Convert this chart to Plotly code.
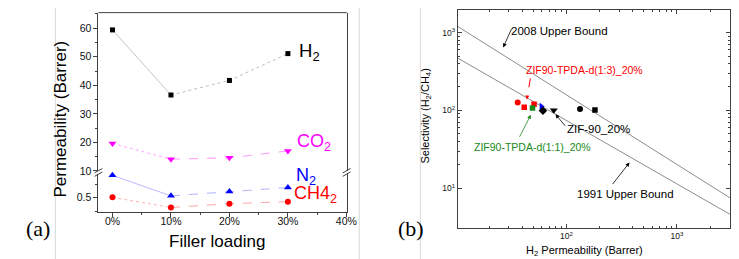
import plotly.graph_objects as go

W, H = 739, 259

# ---------------- Panel (a) data ----------------
loading = [0, 10, 20, 30]
loading_ticks = [0, 10, 20, 30, 40]
loading_labels = ["0%", "10%", "20%", "30%", "40%"]
h2 = [59.4, 36.6, 41.7, 51.1]
co2 = [19.6, 14.1, 14.6, 17.0]
n2 = [0.917, 0.535, 0.614, 0.69]
ch4 = [0.507, 0.318, 0.39, 0.426]
upper_ticks = [10, 20, 30, 40, 50, 60]
lower_ticks = [0.5]
lower_labels = ["0.5"]

# ---------------- Panel (b) data ----------------
ub2008_p = [10.4, 3030]
ub2008_s = [1200, 7.5]
ub1991_p = [10.4, 3030]
ub1991_s = [470, 4.6]
red_circle_p, red_circle_s = [36.3], [126]
red_square_p, red_square_s = [41.6, 51.0], [110, 120]
green_square_p, green_square_s = [49.4], [107]
blue_tri_p, blue_tri_s = [59.4], [112]
blk_diamond_p, blk_diamond_s = [61.4], [99]
blk_tridown_p, blk_tridown_s = [77], [100]
blk_circle_p, blk_circle_s = [133], [104]
blk_square_p, blk_square_s = [181.5], [101]
log_ticks = [10, 100, 1000]
log_labels = ["10<sup>1</sup>", "10<sup>2</sup>", "10<sup>3</sup>"]


def X(px):
    return px / W


def Y(py):
    return 1 - py / H


SANS = "Liberation Sans, Arial"
SERIF = "Liberation Serif, Times New Roman"
AXC = "#404040"

fig = go.Figure()


def series(xs, ys, yaxis, lcol, mcol, sym, msize, dash1, dash2, name):
    fig.add_trace(go.Scatter(x=xs[:2], y=ys[:2], xaxis="x", yaxis=yaxis, mode="lines",
                             line=dict(color=lcol, width=0.8, dash=dash1), showlegend=False))
    fig.add_trace(go.Scatter(x=xs[1:], y=ys[1:], xaxis="x", yaxis=yaxis, mode="lines",
                             line=dict(color=lcol, width=0.9, dash=dash2), showlegend=False))
    fig.add_trace(go.Scatter(x=xs, y=ys, xaxis="x", yaxis=yaxis, mode="markers", name=name,
                             marker=dict(color=mcol, symbol=sym, size=msize, line=dict(width=0)),
                             showlegend=False, cliponaxis=False))


series(loading, h2, "y", "#b5b5b5", "#000000", "square", 5, "solid", "dot", "H2")
series(loading, co2, "y", "#ff8cff", "#ff00ff", "triangle-down", 7, "dot", "dash", "CO2")
series(loading, n2, "y2", "#a8a8ff", "#0000ff", "triangle-up", 7, "solid", "dash", "N2")
series(loading, ch4, "y2", "#ff9a9a", "#ff0000", "circle", 6, "dot", "dash", "CH4")

# ---------------- Panel (b) traces ----------------
fig.add_trace(go.Scatter(x=ub2008_p, y=ub2008_s, xaxis="x3", yaxis="y3", mode="lines",
                         line=dict(color="#8c8c8c", width=1), showlegend=False))
fig.add_trace(go.Scatter(x=ub1991_p, y=ub1991_s, xaxis="x3", yaxis="y3", mode="lines",
                         line=dict(color="#8c8c8c", width=1), showlegend=False))


def pts(px, sy, color, sym, size=6):
    fig.add_trace(go.Scatter(x=px, y=sy, xaxis="x3", yaxis="y3", mode="markers",
                             marker=dict(color=color, symbol=sym, size=size, line=dict(width=0)),
                             showlegend=False))


pts(red_circle_p, red_circle_s, "#ff0000", "circle", 6)
pts(red_square_p, red_square_s, "#ff0000", "square", 5.5)
pts(green_square_p, green_square_s, "#1a8a1a", "square", 5.5)
pts(blue_tri_p, blue_tri_s, "#0000ff", "triangle-right", 6.5)
pts(blk_diamond_p, blk_diamond_s, "#000000", "diamond", 6.5)
pts(blk_tridown_p, blk_tridown_s, "#000000", "triangle-down", 7)
pts(blk_circle_p, blk_circle_s, "#000000", "circle", 6)
pts(blk_square_p, blk_square_s, "#000000", "square", 5.5)

minor_log = [k * 10 ** e for e in (1, 2, 3) for k in range(2, 10)]

fig.update_layout(
    width=W, height=H, margin=dict(l=0, r=0, t=0, b=0),
    paper_bgcolor="white", plot_bgcolor="white",
    font=dict(family=SANS, color="#111111"),
    xaxis=dict(domain=[X(91.7), X(343.3)], range=[-2.4, 40.05], anchor="y2",
               tickvals=loading_ticks, ticktext=loading_labels, tickfont=dict(size=10.5),
               ticks="outside", ticklen=4, tickcolor=AXC, showline=True, linecolor=AXC, linewidth=1,
               ticklabelstandoff=-5,
               minor=dict(tickvals=[5, 15, 25, 35], ticks="outside", ticklen=2, tickcolor=AXC),
               showgrid=False, zeroline=False),
    yaxis=dict(domain=[Y(167), Y(4.7)], range=[9.48, 65.45], anchor="x",
               tickvals=upper_ticks, tickfont=dict(size=10.5),
               ticks="outside", ticklen=4, tickcolor=AXC, showline=True, linecolor=AXC, linewidth=1,
               mirror=True,
               minor=dict(tickvals=[15, 25, 35, 45, 55, 65], ticks="outside", ticklen=2, tickcolor=AXC),
               showgrid=False, zeroline=False),
    yaxis2=dict(domain=[Y(207.3), Y(167)], range=[0.232, 0.972], anchor="x",
                tickvals=lower_ticks, ticktext=lower_labels, tickfont=dict(size=10.5),
                ticks="outside", ticklen=4, tickcolor=AXC, showline=True, linecolor=AXC, linewidth=1,
                mirror=True,
                minor=dict(tickvals=[0.25, 0.75], ticks="outside", ticklen=2, tickcolor=AXC),
                showgrid=False, zeroline=False),
    xaxis3=dict(domain=[X(456), X(732)], type="log", range=[1.018, 3.482], anchor="y3",
                tickvals=log_ticks, ticktext=log_labels, tickfont=dict(size=8.5),
                ticks="inside", ticklen=4, tickcolor=AXC, showline=True, linecolor=AXC, linewidth=1,
                mirror="ticks",
                minor=dict(tickvals=minor_log, ticks="inside", ticklen=2, tickcolor=AXC),
                showgrid=False, zeroline=False),
    yaxis3=dict(domain=[Y(223.5), Y(2.3)], type="log", range=[0.487, 3.287], anchor="x3",
                tickvals=log_ticks, ticktext=log_labels, tickfont=dict(size=8.5),
                ticks="inside", ticklen=4, tickcolor=AXC, showline=True, linecolor=AXC, linewidth=1,
                mirror="ticks",
                minor=dict(tickvals=minor_log, ticks="inside", ticklen=2, tickcolor=AXC),
                showgrid=False, zeroline=False),
)

shapes = []
# panel frames
FR = "#d8d8d8"
shapes.append(dict(type="line", xref="paper", yref="paper", x0=X(48), x1=X(48), y0=Y(0), y1=Y(258), line=dict(color=FR, width=1)))
shapes.append(dict(type="line", xref="paper", yref="paper", x0=X(356), x1=X(356), y0=Y(0), y1=Y(258), line=dict(color=FR, width=1)))
shapes.append(dict(type="line", xref="paper", yref="paper", x0=X(48), x1=X(356), y0=Y(258), y1=Y(258), line=dict(color=FR, width=1)))
shapes.append(dict(type="line", xref="paper", yref="paper", x0=X(418), x1=X(418), y0=Y(0), y1=Y(258), line=dict(color=FR, width=1)))
shapes.append(dict(type="line", xref="paper", yref="paper", x0=X(418), x1=X(739), y0=Y(258), y1=Y(258), line=dict(color=FR, width=1)))
# top line of panel (a)
shapes.append(dict(type="line", xref="paper", yref="paper", x0=X(91.7), x1=X(343.3), y0=Y(4.7), y1=Y(4.7), line=dict(color=AXC, width=1)))
# axis break marks
for bx in (91.7, 343.3):
    shapes.append(dict(type="rect", xref="paper", yref="paper", x0=X(bx - 1.5), x1=X(bx + 1.5), y0=Y(168.5), y1=Y(165.5), line=dict(width=0), fillcolor="white"))
    shapes.append(dict(type="line", xref="paper", yref="paper", x0=X(bx - 4), x1=X(bx + 4), y0=Y(167.5), y1=Y(163), line=dict(color=AXC, width=1)))
    shapes.append(dict(type="line", xref="paper", yref="paper", x0=X(bx - 4), x1=X(bx + 4), y0=Y(171), y1=Y(166.5), line=dict(color=AXC, width=1)))
# red dashed arrow shaft
shapes.append(dict(type="line", xref="paper", yref="paper", x0=X(529.5), x1=X(526.6), y0=Y(71.5), y1=Y(89), line=dict(color="#ff0000", width=1, dash="dash")))
fig.update_layout(shapes=shapes)

ann = []


def txt(px, py, text, size, color="#000000", family=SANS, anchor="left", angle=0):
    ann.append(dict(xref="paper", yref="paper", x=X(px), y=Y(py), text=text, showarrow=False,
                    xanchor=anchor, yanchor="middle", textangle=angle,
                    font=dict(size=size, color=color, family=family)))


def arrow(hx, hy, tx, ty, color):
    ann.append(dict(xref="paper", yref="paper", x=X(hx), y=Y(hy), text="", showarrow=True,
                    ax=tx - hx, ay=ty - hy, arrowhead=2, arrowsize=1, arrowwidth=0.8,
                    arrowcolor=color))


# panel (a) text
txt(53, 113, "Permeability (Barrer)", 17, anchor="center", angle=-90)
txt(212, 237, "Filler loading", 17, anchor="center")
txt(30, 224, "(a)", 22, family=SERIF, anchor="center")
txt(293, 45, "H<sub>2</sub>", 18.5)
txt(291, 137, "CO<sub>2</sub>", 18, color="#ff00ff")
txt(290, 171, "N<sub>2</sub>", 18, color="#0000ff")
txt(288, 189, "CH4<sub>2</sub>", 18, color="#ff0000")

# panel (b) text
txt(409, 224, "(b)", 22, family=SERIF, anchor="center")
txt(424, 110, "Selectivity (H<sub>2</sub>/CH<sub>4</sub>)", 11, anchor="center", angle=-90)
txt(584, 247, "H<sub>2</sub> Permeability (Barrer)", 11, anchor="center")
txt(508, 23, "2008 Upper Bound", 11.5)
txt(575, 189, "1991 Upper Bound", 11.5)
txt(523, 63, "ZIF90-TPDA-d(1:3)_20%", 10.5, color="#ff0000")
txt(470, 141, "ZIF90-TPDA-d(1:1)_20%", 10.5, color="#1a8a1a")
txt(565, 123, "ZIF-90_20%", 11.5)

arrow(502, 40, 511, 20, "#000000")
arrow(526, 93, 526.6, 88, "#ff0000")
arrow(555, 108, 566, 121, "#000000")
arrow(530, 108.5, 518, 132, "#1a8a1a")
arrow(630, 157, 612, 180, "#000000")

fig.update_layout(annotations=ann)

fig.write_html("out.html")
